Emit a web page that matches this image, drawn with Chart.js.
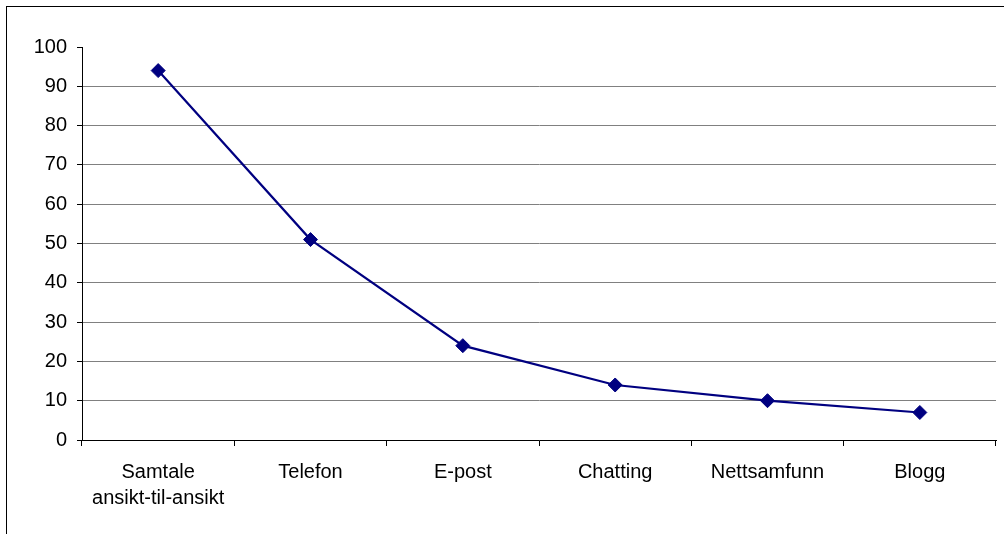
<!DOCTYPE html>
<html>
<head>
<meta charset="utf-8">
<script src="https://cdn.jsdelivr.net/npm/chart.js@4/dist/chart.umd.min.js"></script>
<style>
  html, body { margin: 0; padding: 0; background: #fff; }
  #wrap { position: relative; width: 1004px; height: 534px; overflow: hidden; }
  #frame { position: absolute; left: 6px; top: 6px; width: 1200px; height: 800px;
           border-left: 1px solid #000; border-top: 1px solid #000; }
  canvas { position: absolute; left: 0; top: 0; }
</style>
</head>
<body>
<div id="wrap">
  <div id="frame"></div>
  <canvas id="chart" width="1004" height="534"></canvas>
</div>
<script>
// categories and values
const categories = [['Samtale', 'ansikt-til-ansikt'], 'Telefon', 'E-post', 'Chatting', 'Nettsamfunn', 'Blogg'];
const values = [94, 51, 24, 14, 10, 7];
const yMin = 0;
const yMax = 100;
const yStep = 10;

const ctx = document.getElementById('chart').getContext('2d');
new Chart(ctx, {
  type: 'line',
  data: {
    labels: categories,
    datasets: [{
      data: values,
      borderColor: '#000080',
      backgroundColor: '#000080',
      borderWidth: 2.2,
      tension: 0,
      pointStyle: 'rectRot',
      pointRadius: 7,
      pointBorderWidth: 1,
      pointBorderColor: '#000080',
      pointBackgroundColor: '#000080'
    }]
  },
  options: {
    responsive: false,
    animation: false,
    layout: { padding: { top: 47, right: 8, left: 0, bottom: 0 } },
    plugins: { legend: { display: false }, tooltip: { enabled: false } },
    scales: {
      x: {
        offset: true,
        grid: { offset: true, drawOnChartArea: false, drawTicks: true, tickLength: 6, tickColor: '#000' },
        border: { color: '#000', width: 1 },
        ticks: { color: '#000', padding: 13, font: { family: 'Liberation Sans, Arial', size: 20, lineHeight: 1.3 }, maxRotation: 0, autoSkip: false },
        afterFit: (scale) => { scale.height = 94; }
      },
      y: {
        min: yMin,
        max: yMax,
        grid: {
          color: (c) => (c.tick && c.tick.value === yMax) ? 'rgba(0,0,0,0)' : '#808080',
          tickColor: '#000',
          tickLength: 5
        },
        border: { color: '#000', width: 1 },
        ticks: { stepSize: yStep, color: '#000', padding: 10, font: { family: 'Liberation Sans, Arial', size: 20 } },
        afterFit: (scale) => { scale.width = 82; }
      }
    }
  }
});
</script>
</body>
</html>
